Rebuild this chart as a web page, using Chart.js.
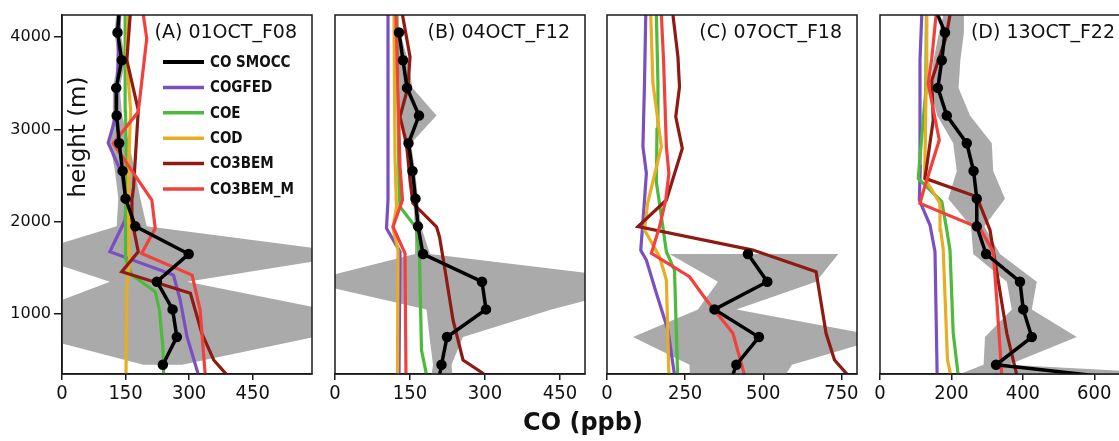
<!DOCTYPE html>
<html>
<head>
<meta charset="utf-8">
<script src="https://cdn.jsdelivr.net/npm/chart.js@4.4.0/dist/chart.umd.min.js"></script>
<style>
  body { margin: 0; width: 1119px; height: 441px; overflow: hidden; background: #fff; position: relative; }
  canvas { position: absolute; top: 0; }
  #xtitle { position: absolute; left: 583px; top: 410px; transform: translateX(-50%); font: bold 24px "DejaVu Sans"; line-height: 24px; color: #111; white-space: nowrap; }
</style>
</head>
<body>
<canvas id="panelA" width="332" height="410" style="left:0px"></canvas>
<canvas id="panelB" width="290" height="410" style="left:315px"></canvas>
<canvas id="panelC" width="290" height="410" style="left:587px"></canvas>
<canvas id="panelD" width="290" height="410" style="left:860px"></canvas>
<div id="xtitle">CO (ppb)</div>
<script>
// series names, same order as the legend
const seriesNames = ['CO SMOCC', 'COGFED', 'COE', 'COD', 'CO3BEM', 'CO3BEM_M'];

// height axis (m)
const heightTicks = [1000, 2000, 3000, 4000];
const xTicksA = [0, 150, 300, 450];
const xTicksB = [0, 150, 300, 450];
const xTicksC = [0, 250, 500, 750];
const xTicksD = [0, 200, 400, 600];

// SMOCC observation levels (m)
const obsHeights = [150, 450, 750, 1050, 1350, 1650, 1950, 2250, 2550, 2850, 3150, 3450, 3750, 4050, 4350];

// SMOCC mean CO (ppb) at each level, and the edges of the grey band
const smoccA     = [null, 238, 271, 261, 224, 299, 173, 150, 143, 135, 129, 128, 141, 131, 136];
const smoccLowA  = [null, 192, -57, -57, 113, -85, 129, 133, 125, 113, 119, 120, 132, 124, 130];
const smoccHighA = [null, 283, 595, 621, 295, 705, 200, 185, 172, 158, 142, 136, 150, 138, 142];

const smoccB     = [203, 213, 224, 302, 294, 176, 166, 161, 155, 147, 168, 144, 136, 128, null];
const smoccLowB  = [188, 196, 189, 183, -60, 160, 160, 156, 150, 138, 128, 130, 126, 127, null];
const smoccHighB = [238, 233, 256, 433, 650, 190, 172, 166, 160, 152, 203, 155, 146, 130, null];

const smoccC     = [383, 414, 486, 344, 513, 451, null, null, null, null, null, null, null, null, null];
const smoccLowC  = [266, 264, 83, 291, 355, 200, null, null, null, null, null, null, null, null, null];
const smoccHighC = [535, 592, 889, 414, 669, 740, null, null, null, null, null, null, null, null, null];

const smoccD     = [1030, 325, 425, 401, 392, 297, 271, 271, 262, 243, 187, 162, 173, 182, 150];
const smoccLowD  = [92, 290, 294, 369, 355, 261, 255, 191, 215, 205, 160, 140, 150, 165, 185];
const smoccHighD = [1800, 360, 551, 425, 439, 336, 292, 350, 317, 313, 252, 220, 225, 235, 235];

// model profiles, pairs of [CO ppb, height m]
const cogfedA = [[322, 340], [295, 754], [279, 1152], [263, 1422], [113, 1675], [149, 2018], [152, 2200], [141, 2524], [109, 2855], [129, 3170], [135, 4240]];
const coeA    = [[240, 340], [238, 646], [230, 1043], [220, 1242], [165, 1422], [150, 1600], [150, 2235], [152, 2600], [150, 3200], [149, 4240]];
const codA    = [[151, 340], [153, 1296], [159, 1512], [158, 2000], [157, 2597], [162, 3209], [152, 3800], [157, 4240]];
const co3bemA = [[389, 340], [358, 502], [330, 791], [303, 1224], [141, 1458], [180, 1675], [165, 2018], [165, 2235], [169, 2380], [180, 3209], [153, 3751], [161, 4240]];
const co3bemMA = [[338, 340], [326, 1043], [307, 1422], [188, 1657], [220, 1928], [212, 2235], [121, 2849], [180, 3191], [200, 3985], [192, 4240]];

const cogfedB = [[128, 340], [130, 1675], [103, 1928], [106, 2235], [106, 4240]];
const coeB    = [[183, 340], [173, 610], [169, 1603], [163, 1928], [130, 2162], [128, 2400], [124, 4240]];
const codB    = [[125, 340], [126, 1693], [116, 1928], [123, 2162], [120, 2700], [118, 4240]];
const co3bemB = [[298, 340], [296, 358], [256, 502], [236, 935], [219, 1512], [209, 1837], [203, 1945], [156, 2199], [150, 2451], [143, 2849], [130, 3137], [146, 3461], [150, 3787], [135, 4240]];
const co3bemMB = [[142, 340], [140, 1657], [116, 1947], [135, 2235], [130, 2600], [126, 3400], [124, 3800], [122, 4240]];

const cogfedC = [[216, 340], [195, 827], [158, 1224], [126, 1585], [108, 1690], [120, 2235], [126, 2524], [115, 2814], [120, 3500], [124, 4240]];
const coeC    = [[226, 340], [216, 1476], [190, 1675], [168, 2199], [158, 2427], [160, 3000], [163, 3500], [158, 4240]];
const codC    = [[198, 340], [190, 1368], [168, 1621], [120, 1910], [130, 2200], [174, 2814], [147, 3498], [140, 4240]];
const co3bemC = [[770, 340], [728, 502], [701, 791], [669, 1458], [467, 1693], [99, 1947], [190, 2235], [241, 2795], [220, 3137], [232, 3461], [227, 3787], [211, 4240]];
const co3bemMC = [[440, 340], [403, 791], [318, 1152], [264, 1404], [142, 1657], [168, 1945], [188, 2235], [198, 2524], [190, 2814], [181, 3750], [174, 4240]];

const cogfedD = [[160, 340], [154, 1675], [140, 1964], [110, 2235], [113, 2600], [112, 3750], [117, 4240]];
const coeD    = [[219, 340], [205, 791], [196, 1693], [187, 1910], [173, 2218], [107, 2470], [112, 2700], [121, 3100], [128, 3400], [130, 4240]];
const codD    = [[198, 340], [189, 502], [177, 1700], [170, 1910], [168, 2200], [125, 2470], [129, 3400], [131, 4240]];
const co3bemD = [[383, 340], [355, 791], [317, 1693], [308, 1910], [271, 2270], [126, 2470], [149, 3101], [145, 3534], [185, 4000], [196, 4240]];
const co3bemMD = [[341, 340], [327, 1152], [317, 1675], [280, 1928], [112, 2199], [121, 2325], [166, 2885], [135, 3498], [145, 3770], [157, 4240]];

// styles
const seriesColors = ['#000000', '#7a4fc2', '#4cba3a', '#e8ad22', '#8e1a12', '#f2413d'];
const drawOrder = [1, 6, 5, 4, 3, 2];
const tickFont = '"DejaVu Sans"';
const axisColor = '#1a1a1a';

function toPoints(pairs) {
    return pairs.map(([v, h]) => ({ x: v, y: h }));
}

function obsPoints(vals) {
    const pts = [];
    vals.forEach((v, i) => {
        if (v !== null) pts.push({ x: v, y: obsHeights[i] });
    });
    return pts;
}

// closed outline: up the low edge, back down the high edge
function bandPoints(low, high) {
    return obsPoints(low).concat(obsPoints(high).reverse());
}

// frame, panel title, legend and the in-plot y title
const panelDecor = {
    id: 'panelDecor',
    afterDraw(chart, args, opts) {
        const { ctx, chartArea: a } = chart;
        ctx.save();
        ctx.strokeStyle = axisColor;
        ctx.lineWidth = 1.5;
        ctx.strokeRect(a.left, a.top, a.right - a.left, a.bottom - a.top);

        ctx.fillStyle = '#111';
        ctx.font = '19px "DejaVu Sans"';
        ctx.textAlign = 'right';
        ctx.textBaseline = 'alphabetic';
        ctx.fillText(opts.title, a.right - 15, a.top + 23);

        if (opts.legend) {
            chart.data.datasets.filter(d => d.label).forEach((d, i) => {
                const y = a.top + 47 + i * 25.4;
                ctx.strokeStyle = d.borderColor;
                ctx.lineWidth = i === 0 ? 4 : 3.5;
                ctx.beginPath();
                ctx.moveTo(a.left + 101, y);
                ctx.lineTo(a.left + 142, y);
                ctx.stroke();
                ctx.fillStyle = '#111';
                ctx.font = 'bold 15px "DejaVu Sans Condensed", "DejaVu Sans"';
                ctx.textAlign = 'left';
                ctx.textBaseline = 'middle';
                ctx.fillText(d.label, a.left + 148, y + 1);
            });
            ctx.translate(79, 137);
            ctx.rotate(-Math.PI / 2);
            ctx.font = '23px "DejaVu Sans"';
            ctx.textAlign = 'center';
            ctx.textBaseline = 'middle';
            ctx.fillText('height (m)', 0, 0);
        }
        ctx.restore();
    }
};

function makePanel(canvasId, title, xMax, xTicks, smocc, low, high, models, showY) {
    const datasets = [{
        data: bandPoints(low, high),
        fill: 'shape',
        backgroundColor: '#aaaaaa',
        borderWidth: 0,
        pointRadius: 0,
        order: 10
    }, {
        label: seriesNames[0],
        data: obsPoints(smocc),
        borderColor: seriesColors[0],
        backgroundColor: seriesColors[0],
        borderWidth: 3.5,
        pointRadius: 3.5,
        order: drawOrder[0]
    }];
    models.forEach((m, i) => {
        datasets.push({
            label: seriesNames[i + 1],
            data: toPoints(m),
            borderColor: seriesColors[i + 1],
            backgroundColor: seriesColors[i + 1],
            borderWidth: 3.2,
            pointRadius: 0,
            order: drawOrder[i + 1]
        });
    });

    return new Chart(document.getElementById(canvasId), {
        type: 'line',
        data: { datasets },
        options: {
            responsive: false,
            animation: false,
            events: [],
            indexAxis: 'y',
            layout: { padding: { top: 15, left: showY ? 0 : 20, right: 20, bottom: 0 } },
            scales: {
                x: {
                    type: 'linear',
                    min: 0,
                    max: xMax,
                    afterBuildTicks: s => { s.ticks = xTicks.map(v => ({ value: v })); },
                    afterFit: s => { s.height = 36; },
                    ticks: {
                        color: '#111',
                        padding: 2,
                        maxRotation: 0,
                        font: { family: '"DejaVu Sans Condensed", "DejaVu Sans"', size: 20 },
                        callback: v => String(v)
                    },
                    grid: { drawOnChartArea: false, tickLength: 6, color: axisColor, lineWidth: 1.5 },
                    border: { color: axisColor, width: 1.5 }
                },
                y: {
                    type: 'linear',
                    min: 350,
                    max: 4240,
                    display: showY,
                    afterBuildTicks: s => { s.ticks = heightTicks.map(v => ({ value: v })); },
                    afterFit: s => { s.width = showY ? 62 : 0; },
                    ticks: {
                        color: '#111',
                        padding: 3,
                        font: { family: tickFont, size: 16 },
                        callback: v => String(v)
                    },
                    grid: { drawOnChartArea: false, tickLength: 8, color: axisColor, lineWidth: 1.5 },
                    border: { color: axisColor, width: 1.5 }
                }
            },
            plugins: {
                legend: { display: false },
                tooltip: { enabled: false },
                panelDecor: { title, legend: showY }
            }
        },
        plugins: [panelDecor]
    });
}

makePanel('panelA', '(A) 01OCT_F08', 590, xTicksA, smoccA, smoccLowA, smoccHighA,
    [cogfedA, coeA, codA, co3bemA, co3bemMA], true);
makePanel('panelB', '(B) 04OCT_F12', 500, xTicksB, smoccB, smoccLowB, smoccHighB,
    [cogfedB, coeB, codB, co3bemB, co3bemMB], false);
makePanel('panelC', '(C) 07OCT_F18', 800, xTicksC, smoccC, smoccLowC, smoccHighC,
    [cogfedC, coeC, codC, co3bemC, co3bemMC], false);
makePanel('panelD', '(D) 13OCT_F22', 700, xTicksD, smoccD, smoccLowD, smoccHighD,
    [cogfedD, coeD, codD, co3bemD, co3bemMD], false);
</script>
</body>
</html>
